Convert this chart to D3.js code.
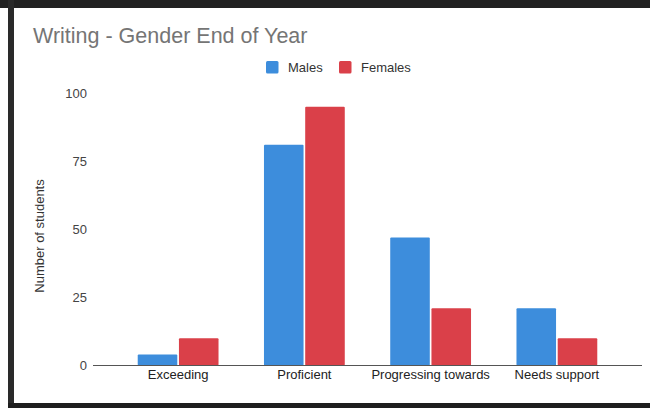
<!DOCTYPE html>
<html>
<head>
<meta charset="utf-8">
<script src="https://cdn.jsdelivr.net/npm/d3@7"></script>
<style>
  body { margin: 0; background: #fff; }
  text { font-family: "Liberation Sans", Arial, sans-serif; }
</style>
</head>
<body>
<div id="chart"></div>
<script>
var svgWidth = 650;
var svgHeight = 408;

// chart data
var categories = ["Exceeding", "Proficient", "Progressing towards", "Needs support"];
var seriesNames = ["Males", "Females"];
var males = [4, 81, 47, 21];
var females = [10, 95, 21, 10];
var yTicks = [0, 25, 50, 75, 100];

var colors = ["#3d8ddc", "#da4049"];

var svg = d3.select("#chart")
    .append("svg")
    .attr("width", svgWidth)
    .attr("height", svgHeight);

svg.append("rect")
    .attr("width", svgWidth)
    .attr("height", svgHeight)
    .attr("fill", "#fff");

// dark scan frame
svg.append("rect").attr("x", 0).attr("y", 0).attr("width", svgWidth).attr("height", 8).attr("fill", "#222");
svg.append("rect").attr("x", 8).attr("y", 0).attr("width", 6).attr("height", svgHeight).attr("fill", "#2a2a2a");
svg.append("rect").attr("x", 8).attr("y", 403).attr("width", svgWidth - 8).attr("height", 5).attr("fill", "#1e1e1e");

// title
svg.append("text")
    .attr("x", 33)
    .attr("y", 43)
    .attr("font-size", 21.5)
    .attr("fill", "#757575")
    .text("Writing - Gender End of Year");

// scales
var xScale = d3.scaleBand()
    .domain(categories)
    .range([115, 620])
    .paddingInner(0.36)
    .paddingOuter(0.18);

var xSub = d3.scaleBand()
    .domain(seriesNames)
    .range([0, xScale.bandwidth()])
    .paddingInner(0.04);

var yScale = d3.scaleLinear()
    .domain([0, 100])
    .range([365.5, 93]);

// y tick labels
var leftAxis = d3.axisLeft(yScale).tickValues(yTicks).tickSize(0).tickPadding(0);
var yAxis = svg.append("g")
    .attr("transform", "translate(87, 0)")
    .call(leftAxis);
yAxis.select(".domain").remove();
yAxis.selectAll("text")
    .attr("font-size", 13)
    .attr("fill", "#444")
    .style("font-family", "'Liberation Sans', Arial, sans-serif");

// y axis title
svg.append("text")
    .attr("transform", "translate(44, 236) rotate(-90)")
    .attr("text-anchor", "middle")
    .attr("font-size", 13)
    .attr("fill", "#333")
    .text("Number of students");

// bars
var rows = categories.map(function(c, i) {
    return { cat: c, values: [males[i], females[i]] };
});

var groups = svg.selectAll(".group")
    .data(rows)
    .enter()
    .append("g")
    .attr("transform", d => `translate(${xScale(d.cat)}, 0)`);

groups.selectAll("rect")
    .data(d => d.values.map((v, j) => ({ name: seriesNames[j], value: v, j: j })))
    .enter()
    .append("rect")
    .attr("x", d => xSub(d.name))
    .attr("y", d => yScale(d.value))
    .attr("width", xSub.bandwidth())
    .attr("height", d => yScale(0) - yScale(d.value))
    .attr("rx", 1)
    .attr("fill", d => colors[d.j]);

// baseline
svg.append("line")
    .attr("x1", 93)
    .attr("x2", 642)
    .attr("y1", yScale(0))
    .attr("y2", yScale(0))
    .attr("stroke", "#555")
    .attr("stroke-width", 1.2);

// x labels
var bottomAxis = d3.axisBottom(xScale).tickSize(0).tickPadding(0);
var xAxis = svg.append("g")
    .attr("transform", "translate(0, 370)")
    .call(bottomAxis);
xAxis.select(".domain").remove();
xAxis.selectAll("text")
    .attr("font-size", 13)
    .attr("fill", "#222")
    .style("font-family", "'Liberation Sans', Arial, sans-serif");

// legend
var legendX = [266, 339];
var legend = svg.selectAll(".legend")
    .data(seriesNames)
    .enter()
    .append("g")
    .attr("transform", (d, i) => `translate(${legendX[i]}, 61)`);

legend.append("rect")
    .attr("width", 12.5)
    .attr("height", 12.5)
    .attr("rx", 1.5)
    .attr("fill", (d, i) => colors[i]);

legend.append("text")
    .attr("x", 22)
    .attr("y", 11)
    .attr("font-size", 13)
    .attr("fill", "#333")
    .text(d => d);
</script>
</body>
</html>
